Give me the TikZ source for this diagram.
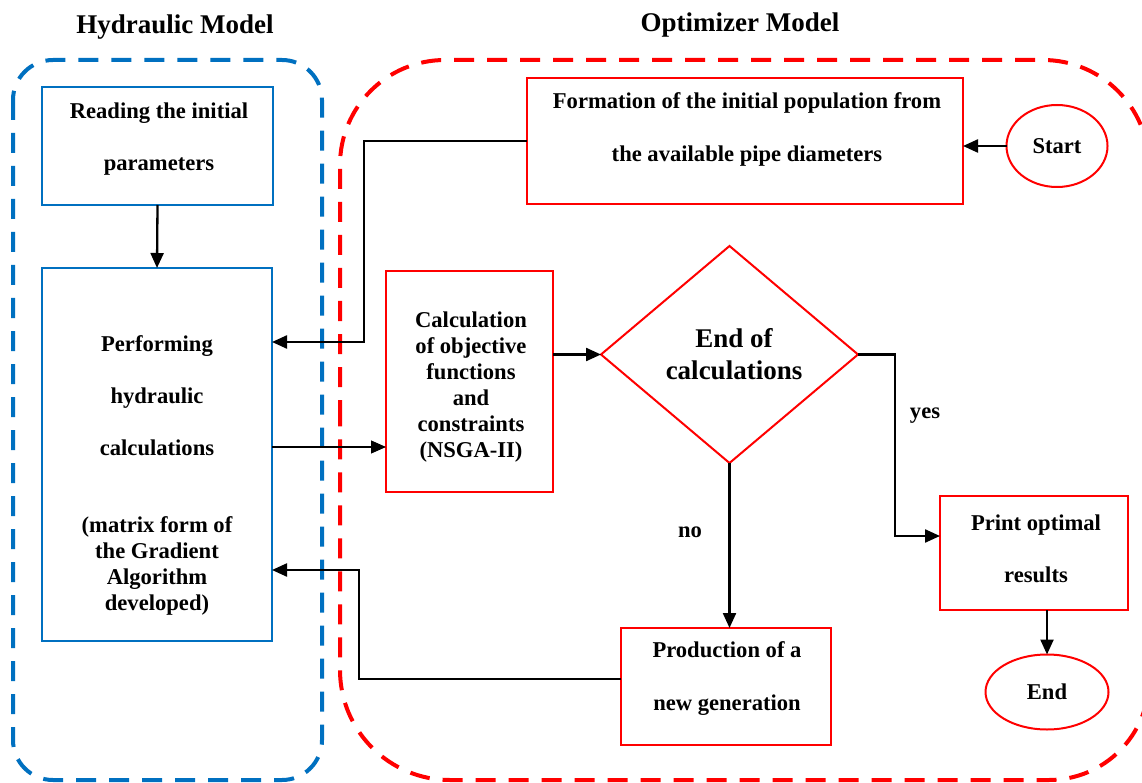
\documentclass[tikz,border=0pt]{standalone}
\usepackage{fontspec}
\setmainfont{Liberation Serif}
\usetikzlibrary{arrows.meta,shapes.geometric}
\definecolor{mblue}{RGB}{0,112,192}
\definecolor{mred}{RGB}{255,0,0}
\begin{document}
\begin{tikzpicture}[x=1pt,y=-1pt,
  every node/.style={font=\fontsize{22.6}{26}\selectfont\bfseries, inner sep=0pt, outer sep=0pt},
  bbox/.style={draw=mblue, line width=2pt, rectangle},
  rbox/.style={draw=mred, line width=2pt, rectangle},
  rell/.style={draw=mred, line width=2pt, ellipse},
  txt/.style={align=center},
  bigtxt/.style={align=center, font=\fontsize{27}{32}\selectfont\bfseries},
  arr/.style={draw=black, line width=2.3pt, -{Triangle[length=15pt,width=13pt]}},
  thinarr/.style={draw=black, line width=1.2pt, -{Triangle[length=15pt,width=13pt]}},
  bluedash/.style={draw=mblue, line width=4pt, dash pattern=on 20pt off 13pt},
  reddash/.style={draw=mred, line width=4pt, dash pattern=on 20pt off 13pt}]
\useasboundingbox (0,0) rectangle (1142,783);
\fill[white] (0,0) rectangle (1142,783);

% group outlines
\draw[bluedash, rounded corners=40pt] (13,60) rectangle (322,780);
\begin{scope}
\clip (0,0) rectangle (1142,783);
\draw[reddash] (340,420) -- (340,165) arc[start angle=180, end angle=270, radius=105]
  -- (1043,60) arc[start angle=270, end angle=360, radius=106]
  -- (1149,680) arc[start angle=0, end angle=90, radius=100]
  -- (450,780) arc[start angle=90, end angle=180, radius=110] -- cycle;
\end{scope}

% titles
\node[bigtxt] (t1) at (175,27) {Hydraulic Model};
\node[bigtxt] (t2) at (740,25) {Optimizer Model};

% boxes
\node[bbox, minimum width=231, minimum height=118] (read) at (157.5,146) {};
\node[txt] (readt) at (159,139) {Reading the initial\\[26pt]parameters};
\node[bbox, minimum width=230, minimum height=373] (perf) at (157,454.5) {};
\node[txt] (perft) at (157,475) {Performing\\[26pt]hydraulic\\[26pt]calculations\\[51pt](matrix form of\\the Gradient\\Algorithm\\developed)};

\node[rbox, minimum width=436, minimum height=126] (form) at (745,141) {};
\node[txt] (formt) at (747,129) {Formation of the initial population from\\[27pt]the available pipe diameters};
\node[rell, minimum width=101, minimum height=82] (start) at (1057,146) {Start};

\node[rbox, minimum width=167, minimum height=221] (calc) at (469.5,381.5) {};
\node[txt] (calct) at (471,387) {Calculation\\of objective\\functions\\and\\constraints\\(NSGA-II)};

\node[draw=mred, line width=2pt, diamond, minimum width=257, minimum height=217] (dec) at (729.5,354.5) {};
\node[bigtxt] (dect) at (734,354) {End of\\calculations};

\node[rbox, minimum width=188, minimum height=114] (print) at (1034,553) {};
\node[txt] (printt) at (1036,549) {Print optimal\\[26pt]results};
\node[rell, minimum width=123, minimum height=75] (end) at (1047,692) {End};

\node[rbox, minimum width=210, minimum height=117] (prod) at (726,686.5) {};
\node[txt] (prodt) at (727,679) {Production of a\\[27pt]new generation};

\node (yes) at (925,416) {yes};
\node (no) at (690,532) {no};

% helper coordinates
\coordinate (c1) at (364,342);
\coordinate (c2) at (272,447);
\coordinate (c3) at (895,352);
\coordinate (c4) at (940,536);
\coordinate (c5) at (359,679);
\coordinate (c6) at (359,570);

% connectors
\draw[arr] (read.south) -- (perf.north);
\draw[arr] (start.west) -- (start.west -| form.east);
\draw[arr] (form.west) -| (c1) -- (c1 -| perf.east);
\draw[thinarr] (perf.east |- c2) -- (calc.west |- c2);
\draw[arr] (calc.east |- dec.west) -- (dec.west);
\draw[arr] (dec.east) -- (dec.east -| c3) |- (c4);
\draw[arr] (end.north |- print.south) -- (end.north);
\draw[arr] (dec.south) -- (dec.south |- prod.north);
\draw[arr] (prod.west |- c5) -- (c5) -- (c6) -- (c6 -| perf.east);
\end{tikzpicture}
\end{document}
